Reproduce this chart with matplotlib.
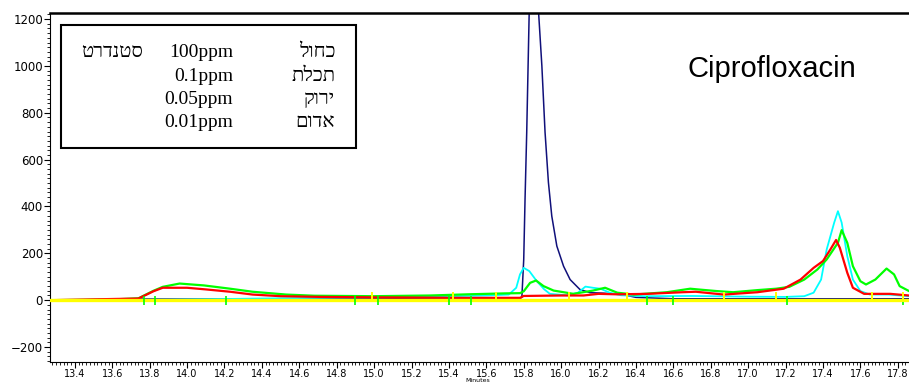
import matplotlib
matplotlib.use("Agg")
import matplotlib.pyplot as plt
from matplotlib.ticker import MultipleLocator, FormatStrFormatter
from matplotlib.patches import Rectangle

# retention time (min) / detector response for each trace
blue_t = [13.27, 13.60, 13.78, 14.0, 14.5, 15.0, 15.5, 15.78, 15.79, 15.80, 15.807, 15.816,
          15.829, 15.842, 15.88, 15.897, 15.914, 15.932, 15.95, 15.977, 16.013, 16.048,
          16.10, 16.155, 16.226, 16.33, 16.40, 16.6, 17.0, 17.5, 17.86]
blue_v = [0, 3, 5, 5, 6, 6, 7, 8, 12, 174, 430, 717,
          1221, 1720, 1221, 1000, 717, 503, 359, 231, 145, 88,
          46, 32, 30, 24, 12, 6, 6, 6, 6]

cyan_t = [13.27, 13.90, 14.2, 14.5, 14.8, 15.1, 15.4, 15.6, 15.72, 15.76, 15.78, 15.80,
          15.83, 15.87, 15.91, 15.94, 16.03, 16.09, 16.13, 16.17, 16.21, 16.26, 16.32,
          16.45, 16.7, 17.0, 17.2, 17.30, 17.35, 17.39, 17.42, 17.46, 17.48, 17.50, 17.53,
          17.56, 17.60, 17.65, 17.75, 17.86]
cyan_v = [0, 2, 5, 8, 11, 13, 17, 20, 24, 53, 110, 138,
          124, 81, 46, 27, 21, 32, 58, 53, 49, 32, 21,
          17, 18, 15, 14, 17, 32, 88, 217, 331, 380, 331, 188,
          88, 39, 24, 24, 17]

green_t = [13.27, 13.60, 13.74, 13.82, 13.87, 13.96, 14.09, 14.23, 14.35, 14.53, 14.68,
           15.0, 15.3, 15.5, 15.7, 15.78, 15.80, 15.834, 15.866, 15.906, 15.96, 16.066,
           16.17, 16.235, 16.30, 16.39, 16.565, 16.69, 16.73, 16.83, 16.92, 17.05, 17.15,
           17.22, 17.30, 17.37, 17.42, 17.48, 17.50, 17.53, 17.56, 17.60, 17.63, 17.68,
           17.74, 17.78, 17.81, 17.86]
green_v = [0, 3, 8, 40, 57, 71, 63, 49, 36, 24, 19,
           17, 20, 25, 29, 30, 38, 74, 84, 60, 41, 27,
           41, 53, 32, 24, 34, 49, 46, 39, 34, 43, 49,
           57, 88, 131, 174, 245, 299, 245, 145, 81, 67, 88,
           135, 110, 60, 39]

red_t = [13.27, 13.60, 13.74, 13.82, 13.87, 14.0, 14.10, 14.23, 14.35, 14.50, 14.71,
         15.0, 15.5, 15.78, 15.80, 16.0, 16.12, 16.2, 16.3, 16.46, 16.65, 16.72, 16.87,
         17.05, 17.19, 17.28, 17.35, 17.40, 17.44, 17.47, 17.49, 17.53, 17.56, 17.62,
         17.76, 17.86]
red_v = [0, 5, 7, 38, 53, 53, 46, 36, 24, 17, 14,
         12, 10, 10, 18, 20, 20, 27, 25, 27, 34, 36, 24,
         34, 49, 88, 138, 167, 217, 257, 224, 117, 53, 27,
         27, 20]

yellow_t = [13.27, 17.86]
yellow_v = [0, 0]

# integration event marks
green_marks = [13.77, 13.83, 14.21, 14.90, 15.02, 15.40, 15.52, 16.46, 16.60, 17.21, 17.83]
yellow_marks = [14.99, 15.42, 15.65, 16.04, 16.35, 16.87, 17.15, 17.66, 17.83]

# legend rows: colour name, concentration
legend_names = ["כחול", "תכלת", "ירוק", "אדום"]
legend_conc = ["100ppm", "0.1ppm", "0.05ppm", "0.01ppm"]
legend_head = "סטנדרט"
title = "Ciprofloxacin"


def rtl(s):
    # matplotlib lays glyphs left to right, so flip Hebrew words
    return s[::-1]


fig = plt.figure(figsize=(9.09, 3.85), dpi=100)
ax = fig.add_axes([0.055, 0.0597, 0.945, 0.9065])

ax.plot(blue_t, blue_v, color="#10107a", lw=1.1, zorder=2)
ax.plot(cyan_t, cyan_v, color="#00ffff", lw=1.3, zorder=3)
ax.plot(green_t, green_v, color="#00ff00", lw=1.6, zorder=4)
ax.plot(red_t, red_v, color="#ff0000", lw=1.6, zorder=5)
ax.plot(yellow_t, yellow_v, color="#ffff00", lw=2.4, zorder=6)
ax.vlines(green_marks, -20, 18, color="#00ff00", lw=1.2, zorder=7)
ax.vlines(yellow_marks, -8, 34, color="#ffff00", lw=1.4, zorder=7)

ax.set_xlim(13.267, 17.86)
ax.set_ylim(-264, 1226)

ax.xaxis.set_major_locator(MultipleLocator(0.2))
ax.xaxis.set_minor_locator(MultipleLocator(0.02))
ax.xaxis.set_major_formatter(FormatStrFormatter("%.1f"))
ax.yaxis.set_major_locator(MultipleLocator(200))
ax.yaxis.set_minor_locator(MultipleLocator(20))
ax.tick_params(axis="both", which="major", direction="out", length=4, width=0.8, pad=1)
ax.tick_params(axis="both", which="minor", direction="out", length=2, width=0.6)
ax.tick_params(axis="x", labelsize=7)
ax.tick_params(axis="y", labelsize=8.5)

ax.spines["right"].set_visible(False)
ax.spines["top"].set_linewidth(1.8)
ax.spines["left"].set_linewidth(0.8)
ax.spines["bottom"].set_linewidth(0.8)

fig.text(478 / 909, 0.018, "Minutes", fontsize=4.5, ha="center", va="top")

# concentration key
ax.add_patch(Rectangle((0.0128, 0.613), 0.344, 0.3526, transform=ax.transAxes,
                       fill=False, lw=1.5, ec="black", zorder=8))
serif = ["Liberation Serif", "DejaVu Sans"]
rows_y = [0.888, 0.8195, 0.751, 0.685]
ax.text(0.108, rows_y[0], rtl(legend_head), transform=ax.transAxes, ha="right",
        va="center", fontsize=14.5, family=serif, zorder=9)
for y, name, conc in zip(rows_y, legend_names, legend_conc):
    ax.text(0.213, y, conc, transform=ax.transAxes, ha="right", va="center",
            fontsize=14, family=serif, zorder=9)
    ax.text(0.332, y, rtl(name), transform=ax.transAxes, ha="right", va="center",
            fontsize=14.5, family=serif, zorder=9)

ax.text(0.7427, 0.8166, title, transform=ax.transAxes, ha="left", va="baseline",
        fontsize=21, family="Liberation Sans", zorder=9)

fig.savefig("out.png", dpi=100)
